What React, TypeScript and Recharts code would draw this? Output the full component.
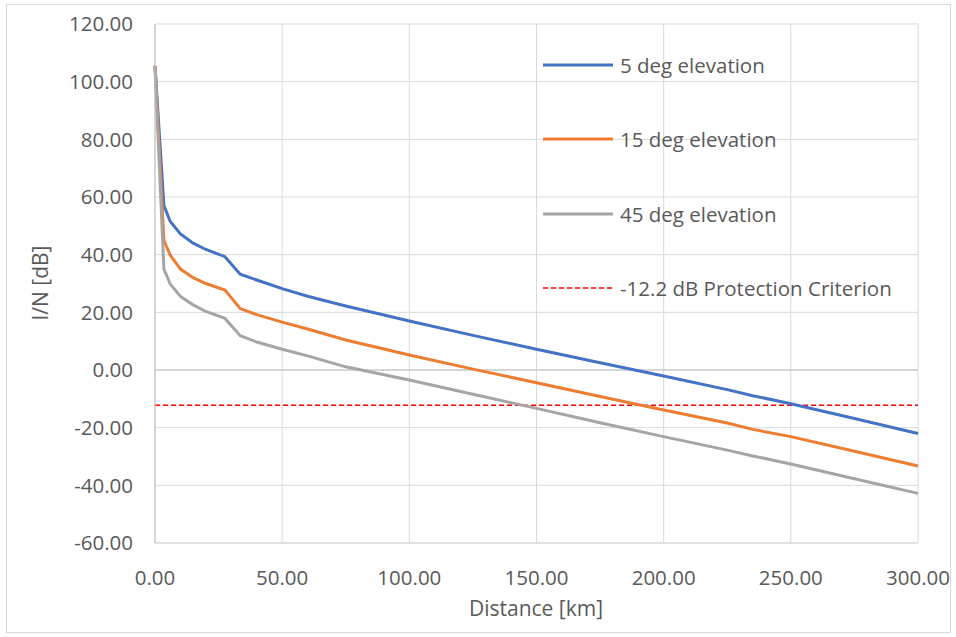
import { LineChart, Line, XAxis, YAxis, CartesianGrid, ReferenceLine, Legend } from 'recharts';

// distance along the path [km]
const distances = [0, 3.5, 6, 10, 15, 20, 27.5, 33.5, 40, 50, 60, 75, 100, 125, 150, 175, 200, 225, 235, 250, 275, 300];

// I/N [dB] per elevation angle
const elev5 = [105.5, 57, 51.5, 47.2, 44, 41.8, 39.3, 33.2, 31.2, 28.2, 25.6, 22.2, 17.0, 12.0, 7.2, 2.5, -2.1, -6.8, -8.9, -11.7, -16.8, -22.0];
const elev15 = [105.5, 45, 39.8, 35, 32, 30, 27.7, 21.3, 19.2, 16.6, 14.2, 10.4, 5.2, 0.3, -4.4, -9.2, -13.9, -18.4, -20.6, -23.1, -28.2, -33.3];
const elev45 = [105.2, 35, 29.8, 25.5, 22.6, 20.3, 17.9, 11.9, 9.7, 7.2, 4.9, 1.1, -3.5, -8.4, -13.3, -18.3, -23.1, -27.8, -29.8, -32.6, -37.7, -42.8];

const protectionCriterion = -12.2;

const xTicks = [0, 50, 100, 150, 200, 250, 300];
const yTicks = [-60, -40, -20, 0, 20, 40, 60, 80, 100, 120];

const series = [
  { key: 'e5', name: '5 deg elevation', color: '#4472C4' },
  { key: 'e15', name: '15 deg elevation', color: '#ED7D31' },
  { key: 'e45', name: '45 deg elevation', color: '#A5A5A5' },
];

const data = distances.map((d, i) => ({ d, e5: elev5[i], e15: elev15[i], e45: elev45[i] }));

const FONT = '"Open Sans", sans-serif';
const TEXT = '#595959';

function YTitle() {
  return (
    <text x={40} y={283} transform="rotate(-90 40 283)" textAnchor="middle" dominantBaseline="central"
      fontFamily={FONT} fontSize={21} fill={TEXT}>
      I/N [dB]
    </text>
  );
}

function XTitle() {
  return (
    <text x={536} y={608} textAnchor="middle" dominantBaseline="central" fontFamily={FONT} fontSize={21} fill={TEXT}>
      Distance [km]
    </text>
  );
}

function LegendBox() {
  const rows = [
    ...series.map(s => ({ name: s.name, color: s.color, dashed: false })),
    { name: `${protectionCriterion} dB Protection Criterion`, color: '#FF0000', dashed: true },
  ];
  return (
    <div style={{ fontFamily: FONT, fontSize: 20.5, color: TEXT }}>
      {rows.map((r, i) => (
        <div key={r.name} style={{ position: 'absolute', left: 0, top: i * 74.3, height: 50, display: 'flex', alignItems: 'center', whiteSpace: 'nowrap' }}>
          <svg width={76} height={6} style={{ display: 'block', flex: 'none' }}>
            <line x1={3} x2={73} y1={3} y2={3} stroke={r.color} strokeWidth={r.dashed ? 1.5 : 3}
              strokeDasharray={r.dashed ? '5 3' : undefined} />
          </svg>
          <span style={{ marginLeft: 4 }}>{r.name}</span>
        </div>
      ))}
    </div>
  );
}

export default function App() {
  return (
    <div style={{ position: 'absolute', left: 0, top: 0, width: 956, height: 637, background: '#fff' }}>
      <div style={{ position: 'absolute', left: 6, top: 4, width: 943, height: 627, border: '1px solid #d9d9d9' }} />
      <LineChart width={956} height={637} data={data} margin={{ top: 24, right: 38, bottom: 0, left: 0 }}>
        <CartesianGrid stroke="#d9d9d9" strokeWidth={1} />
        <XAxis type="number" dataKey="d" domain={[0, 300]} ticks={xTicks} height={94}
          tickFormatter={(v: number) => v.toFixed(2)} tickLine={false} tickMargin={21}
          axisLine={{ stroke: '#d9d9d9' }} tick={{ fontSize: 20.5, fill: TEXT, fontFamily: FONT }}
          label={<XTitle />} />
        <YAxis type="number" domain={[-60, 120]} ticks={yTicks} width={155}
          tickFormatter={(v: number) => v.toFixed(2)} tickLine={false} tickMargin={16}
          axisLine={{ stroke: '#bfbfbf' }} tick={{ fontSize: 20.5, fill: TEXT, fontFamily: FONT }}
          label={<YTitle />} />
        <ReferenceLine y={0} stroke="#bfbfbf" strokeWidth={1} />
        <ReferenceLine y={protectionCriterion} stroke="#FF0000" strokeWidth={1.5} strokeDasharray="5 3" />
        {series.map(s => (
          <Line key={s.key} type="linear" dataKey={s.key} name={s.name} stroke={s.color} strokeWidth={3}
            dot={false} activeDot={false} isAnimationActive={false} />
        ))}
        <Legend layout="horizontal" verticalAlign="middle" align="center" content={() => <LegendBox />}
          wrapperStyle={{ left: 540, top: 40, width: 400, height: 280 }} />
      </LineChart>
    </div>
  );
}
